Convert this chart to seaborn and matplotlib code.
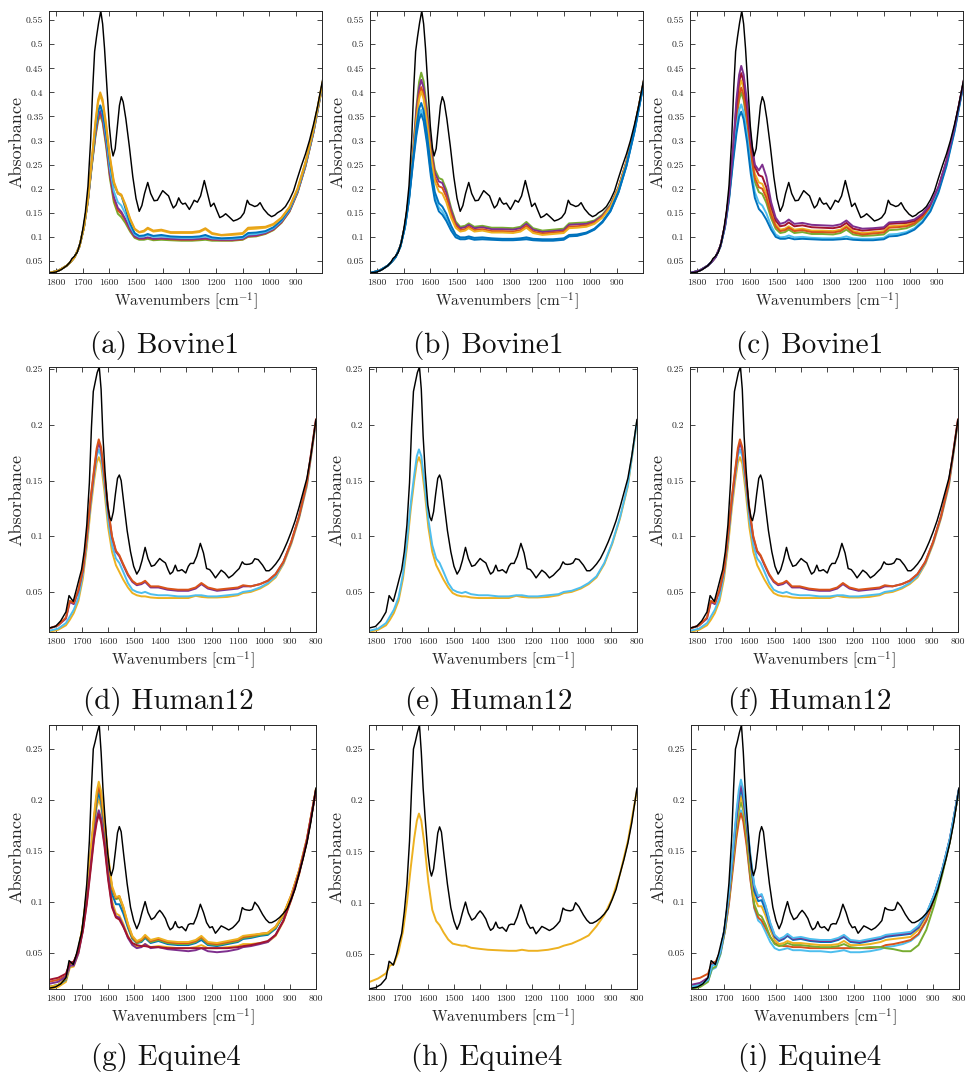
import numpy as np
import pandas as pd
import seaborn as sns
import matplotlib.pyplot as plt

# ---------------------------------------------------------------- wavenumber grids
WN_REF = [1826, 1800, 1780, 1760, 1748, 1740, 1732, 1720, 1708, 1700,
          1690, 1680, 1670, 1662, 1655, 1648, 1640, 1632, 1625, 1618,
          1610, 1600, 1592, 1586, 1578, 1570, 1562, 1555, 1548, 1538,
          1525, 1512, 1500, 1488, 1478, 1468, 1456, 1445, 1432, 1420,
          1410, 1400, 1390, 1378, 1368, 1360, 1350, 1340, 1332, 1325,
          1315, 1300, 1290, 1282, 1270, 1258, 1244, 1232, 1220, 1208,
          1198, 1186, 1175, 1164, 1150, 1135, 1120, 1108, 1095, 1083,
          1075, 1066, 1055, 1045, 1035, 1022, 1005, 992, 980, 970,
          955, 940, 925, 910, 895, 880, 865, 850, 835, 820,
          800]

WN_SMP = [1826, 1790, 1760, 1745, 1730, 1712, 1695, 1680, 1665, 1652,
          1642, 1634, 1625, 1612, 1598, 1583, 1568, 1555, 1540, 1522,
          1505, 1488, 1470, 1456, 1435, 1405, 1370, 1330, 1290, 1262,
          1240, 1215, 1180, 1140, 1100, 1080, 1050, 1015, 985, 955,
          925, 895, 865, 835, 800]

# ---------------------------------------------------------------- reference spectra
REF_BOVINE = [.025, .027, .032, .040, .047, .055, .059, .068, .090, .114,
              .150, .205, .300, .410, .485, .515, .545, .569, .542, .492,
              .420, .330, .285, .268, .283, .328, .373, .391, .380, .345,
              .288, .225, .180, .153, .165, .190, .213, .190, .175, .176,
              .186, .196, .191, .185, .170, .160, .166, .181, .172, .168,
              .170, .157, .167, .176, .172, .185, .217, .190, .163, .170,
              .156, .140, .143, .148, .141, .133, .136, .140, .150, .176,
              .168, .166, .163, .165, .171, .158, .147, .142, .145, .150,
              .155, .163, .177, .195, .222, .248, .272, .300, .333, .370,
              .428]

REF_HUMAN = [.0175, .019, .024, .032, .0467, .044, .0415, .052, .063, .070,
             .086, .110, .148, .198, .230, .238, .247, .252, .232, .190,
             .158, .128, .117, .114, .122, .138, .152, .155, .150, .130,
             .105, .086, .073, .066, .070, .078, .090, .080, .073, .074,
             .077, .080, .078, .076, .070, .066, .068, .074, .069, .069,
             .070, .067, .073, .0756, .0756, .082, .0936, .085, .071, .070,
             .067, .0626, .066, .0695, .067, .0626, .065, .068, .071, .077,
             .075, .0747, .075, .076, .0798, .079, .074, .069, .069, .071,
             .075, .080, .087, .095, .104, .114, .126, .139, .152, .172,
             .205]

REF_EQUINE = [.0157, .017, .020, .026, .0428, .041, .039, .049, .062, .070,
              .091, .118, .160, .212, .250, .257, .266, .2735, .247, .212,
              .182, .149, .132, .126, .133, .150, .168, .174, .169, .146,
              .118, .095, .082, .074, .080, .090, .1006, .090, .083, .085,
              .089, .092, .089, .084, .077, .073, .075, .081, .076, .075,
              .076, .072, .078, .079, .0787, .086, .098, .090, .080, .075,
              .076, .0696, .073, .0768, .075, .0728, .075, .078, .082, .0947,
              .093, .0924, .092, .093, .100, .096, .088, .083, .080, .080,
              .082, .085, .089, .094, .103, .113, .128, .142, .158, .178,
              .212]

# ---------------------------------------------------------------- sample spectra, Bovine1
A_GREEN = [.025, .030, .040, .048, .058, .080, .119, .175, .250, .308, .341, .352, .337, .288, .222,
           .172, .148, .141, .129, .111, .098, .094, .094, .096, .093, .094, .093, .092, .092, .093,
           .094, .092, .092, .092, .094, .100, .101, .106, .114, .129, .152, .191, .246, .316, .418]
A_RED = [.025, .030, .040, .048, .058, .080, .120, .176, .252, .312, .346, .357, .342, .294, .228,
         .178, .155, .148, .134, .114, .100, .096, .096, .098, .095, .096, .095, .094, .094, .095,
         .096, .094, .093, .093, .095, .101, .102, .107, .115, .130, .153, .192, .247, .317, .419]
A_PURPLE = [.025, .030, .040, .048, .058, .080, .120, .176, .254, .316, .351, .362, .346, .298, .232,
            .183, .160, .152, .137, .116, .101, .097, .097, .099, .096, .097, .096, .095, .095, .096,
            .097, .095, .094, .094, .096, .102, .103, .108, .116, .131, .154, .193, .248, .318, .420]
A_LIGHTBLUE = [.025, .030, .040, .048, .058, .080, .121, .178, .258, .323, .360, .372, .356, .308, .243,
               .195, .172, .165, .148, .122, .105, .100, .101, .104, .100, .101, .099, .098, .098, .099,
               .101, .097, .096, .096, .098, .105, .106, .110, .118, .133, .156, .195, .250, .320, .421]
A_BLUE = [.025, .030, .040, .048, .058, .080, .121, .178, .258, .325, .362, .373, .358, .315, .255,
          .210, .190, .186, .160, .128, .108, .102, .103, .106, .102, .104, .101, .100, .100, .101,
          .104, .099, .097, .098, .100, .108, .109, .112, .120, .135, .158, .197, .252, .322, .422]
A_YELLOW = [.025, .030, .040, .048, .058, .080, .121, .179, .262, .335, .379, .394, .379, .330, .264,
            .212, .190, .186, .166, .136, .116, .109, .111, .117, .111, .113, .108, .108, .108, .110,
            .116, .106, .103, .104, .106, .116, .117, .119, .125, .139, .161, .199, .254, .324, .423]
A_ORANGE = [.025, .030, .040, .048, .058, .080, .122, .180, .265, .340, .385, .400, .385, .335, .268,
            .215, .192, .188, .168, .138, .117, .110, .113, .119, .113, .115, .110, .110, .110, .112,
            .118, .108, .104, .106, .108, .119, .120, .121, .127, .140, .162, .200, .255, .325, .424]

B_GREEN = [.025, .030, .040, .048, .058, .081, .124, .184, .275, .370, .422, .441, .423, .365, .292,
           .240, .222, .219, .198, .160, .132, .121, .123, .128, .121, .123, .119, .119, .118, .121,
           .131, .118, .113, .115, .117, .128, .129, .130, .134, .146, .167, .203, .257, .326, .424]
B_PURPLE = [.025, .030, .040, .048, .058, .081, .123, .183, .272, .362, .409, .426, .409, .354, .284,
            .233, .215, .212, .192, .155, .128, .118, .120, .125, .118, .120, .116, .116, .115, .118,
            .127, .115, .110, .112, .114, .125, .126, .127, .132, .144, .165, .202, .256, .325, .424]
B_RED = [.025, .030, .040, .048, .058, .081, .123, .182, .270, .350, .395, .411, .395, .343, .275,
         .224, .205, .202, .183, .148, .124, .114, .116, .121, .114, .116, .112, .112, .111, .114,
         .123, .111, .107, .109, .111, .121, .122, .124, .129, .142, .163, .201, .255, .325, .423]
B_ORANGE = [.025, .030, .040, .048, .058, .080, .122, .181, .267, .342, .386, .402, .386, .336, .268,
            .215, .194, .190, .172, .140, .119, .111, .113, .118, .111, .113, .109, .109, .108, .111,
            .119, .108, .104, .106, .108, .118, .119, .121, .127, .140, .162, .200, .254, .324, .423]
B_LIGHTBLUE = [.025, .030, .040, .048, .058, .080, .120, .177, .256, .318, .353, .364, .348, .300, .234,
               .184, .161, .153, .139, .117, .102, .097, .097, .099, .096, .097, .096, .095, .095, .096,
               .097, .095, .094, .094, .096, .102, .103, .108, .116, .131, .154, .193, .248, .319, .420]
B_BLUE1 = [.025, .030, .040, .048, .058, .080, .121, .178, .260, .328, .366, .378, .362, .312, .245,
           .193, .170, .163, .148, .123, .105, .099, .099, .101, .098, .099, .097, .096, .096, .097,
           .099, .096, .095, .095, .097, .104, .105, .109, .117, .132, .155, .194, .249, .320, .421]
B_BLUE2 = [.025, .030, .040, .048, .058, .080, .120, .176, .252, .311, .344, .355, .340, .292, .226,
           .176, .153, .146, .133, .113, .099, .095, .095, .097, .094, .095, .094, .093, .093, .094,
           .095, .093, .092, .092, .094, .101, .102, .107, .115, .130, .153, .192, .247, .318, .420]

C_PURPLE = [.025, .030, .040, .048, .058, .081, .124, .185, .280, .385, .436, .455, .437, .378, .305,
            .250, .238, .250, .225, .172, .140, .127, .130, .136, .127, .129, .125, .124, .123, .126,
            .134, .122, .117, .118, .120, .130, .131, .132, .136, .148, .168, .204, .258, .327, .425]
C_RED = [.025, .030, .040, .048, .058, .081, .124, .184, .276, .372, .422, .440, .422, .366, .295,
         .245, .228, .225, .203, .163, .134, .122, .124, .130, .122, .124, .120, .119, .118, .121,
         .129, .117, .113, .115, .117, .127, .128, .129, .133, .146, .166, .203, .257, .326, .424]
C_YELLOW = [.025, .030, .040, .048, .058, .081, .123, .183, .272, .361, .408, .425, .408, .353, .283,
            .231, .213, .210, .190, .152, .126, .115, .117, .122, .115, .117, .113, .113, .112, .115,
            .123, .112, .108, .110, .112, .122, .123, .125, .130, .143, .164, .201, .255, .325, .423]
C_ORANGE = [.025, .030, .040, .048, .058, .081, .122, .182, .269, .349, .394, .410, .394, .342, .273,
            .222, .203, .200, .181, .146, .122, .112, .114, .119, .112, .114, .110, .110, .109, .112,
            .120, .109, .105, .107, .109, .119, .120, .122, .128, .141, .163, .200, .254, .324, .423]
C_GREEN = [.025, .030, .040, .048, .058, .080, .122, .181, .266, .340, .384, .400, .384, .334, .266,
           .214, .193, .189, .171, .139, .117, .108, .110, .115, .108, .110, .106, .106, .105, .108,
           .115, .105, .102, .103, .105, .114, .115, .118, .125, .139, .161, .199, .253, .323, .422]
C_LIGHTBLUE = [.025, .030, .040, .048, .058, .080, .121, .178, .259, .325, .363, .375, .359, .310, .244,
               .193, .171, .165, .149, .123, .105, .099, .100, .103, .099, .100, .098, .097, .097, .098,
               .101, .097, .096, .096, .098, .105, .106, .110, .118, .133, .156, .195, .250, .320, .421]
C_BLUE = [.025, .030, .040, .048, .058, .080, .120, .176, .254, .314, .349, .360, .344, .296, .230,
          .181, .158, .150, .136, .115, .100, .096, .096, .098, .095, .096, .095, .094, .094, .095,
          .096, .094, .093, .093, .095, .101, .102, .107, .115, .130, .153, .192, .247, .318, .420]

# ---------------------------------------------------------------- sample spectra, Human12
D_YELLOW = [.014, .016, .020, .025, .031, .042, .062, .090, .125, .150, .166, .171, .165, .140, .108,
            .086, .074, .068, .061, .054, .049, .047, .046, .046, .045, .0445, .0445, .0445, .0445, .0465,
            .0455, .045, .045, .0455, .047, .049, .050, .053, .057, .063, .075, .093, .116, .145, .203]
D_LIGHTBLUE = [.015, .017, .022, .028, .034, .045, .066, .095, .130, .155, .172, .178, .172, .147, .115,
               .092, .080, .076, .068, .058, .052, .050, .049, .050, .048, .047, .047, .046, .046, .047,
               .047, .046, .046, .047, .048, .050, .051, .054, .058, .064, .076, .094, .117, .146, .203]
D_PURPLE = [.017, .020, .026, .041, .039, .051, .069, .099, .133, .158, .176, .184, .177, .153, .123,
            .099, .086, .082, .074, .065, .059, .056, .057, .059, .054, .054, .052, .051, .051, .053,
            .057, .053, .051, .052, .053, .055, .055, .057, .060, .066, .077, .095, .118, .148, .205]
D_RED = [.017, .020, .027, .042, .040, .052, .070, .100, .135, .160, .179, .187, .180, .155, .125,
         .100, .087, .083, .075, .066, .060, .057, .058, .060, .055, .055, .053, .052, .052, .054,
         .058, .054, .052, .053, .054, .056, .055, .057, .060, .066, .077, .095, .118, .148, .205]

# ---------------------------------------------------------------- sample spectra, Equine4
G_YELLOW = [.017, .019, .025, .040, .040, .053, .078, .110, .150, .186, .208, .218, .209, .182, .146,
            .116, .105, .106, .096, .079, .067, .062, .064, .068, .063, .065, .062, .061, .061, .063,
            .067, .061, .060, .062, .064, .067, .068, .069, .070, .076, .088, .107, .131, .162, .211]
G_ORANGE = [.022, .024, .028, .041, .041, .053, .077, .108, .147, .182, .204, .213, .204, .178, .143,
            .114, .104, .106, .095, .078, .066, .061, .063, .067, .062, .064, .061, .060, .060, .062,
            .066, .060, .059, .061, .063, .066, .067, .069, .070, .076, .088, .107, .131, .162, .211]
G_GREEN = [.017, .019, .025, .039, .040, .053, .077, .108, .147, .181, .203, .212, .203, .177, .142,
           .113, .103, .104, .094, .077, .065, .060, .062, .066, .061, .063, .060, .059, .059, .061,
           .065, .059, .058, .060, .062, .065, .066, .068, .069, .075, .087, .106, .130, .161, .210]
G_BLUE = [.017, .019, .024, .038, .039, .052, .076, .106, .144, .177, .198, .207, .198, .172, .138,
          .108, .098, .098, .089, .075, .064, .060, .061, .065, .060, .062, .059, .058, .058, .060,
          .063, .058, .057, .059, .061, .064, .065, .067, .068, .074, .087, .106, .130, .161, .210]
G_PURPLE = [.020, .022, .027, .038, .038, .050, .072, .100, .135, .165, .182, .190, .182, .158, .125,
            .097, .086, .085, .077, .065, .058, .055, .056, .059, .055, .056, .054, .053, .052, .053,
            .055, .052, .051, .052, .054, .056, .057, .059, .061, .068, .082, .103, .128, .160, .210]
G_DARKRED = [.024, .026, .030, .040, .042, .052, .072, .098, .132, .162, .178, .186, .178, .155, .122,
             .095, .085, .083, .076, .066, .060, .058, .057, .057, .056, .056, .055, .055, .055, .055,
             .055, .055, .055, .055, .056, .057, .058, .060, .062, .068, .082, .103, .128, .160, .210]
G_YELLOW_LOW = [.015, .017, .022, .036, .037, .050, .074, .104, .142, .173, .193, .201, .193, .167, .132,
                .101, .089, .087, .079, .067, .059, .056, .057, .059, .056, .057, .056, .055, .055, .056,
                .058, .055, .055, .056, .057, .059, .059, .060, .061, .067, .081, .102, .127, .159, .209]

H_YELLOW = [.0223, .026, .031, .0386, .040, .052, .072, .100, .135, .163, .180, .187, .180, .155, .120,
            .093, .082, .078, .071, .064, .060, .059, .058, .058, .056, .055, .054, .0535, .053, .053,
            .054, .053, .053, .054, .056, .058, .060, .064, .068, .077, .088, .104, .128, .160, .210]

I_LIGHTBLUE = [.017, .019, .024, .038, .039, .052, .077, .109, .150, .187, .210, .220, .210, .183, .147,
               .117, .106, .108, .097, .080, .068, .064, .066, .069, .065, .066, .064, .063, .063, .065,
               .068, .063, .062, .064, .066, .068, .069, .070, .071, .077, .089, .107, .131, .162, .211]
I_PURPLE = [.019, .021, .026, .039, .040, .052, .077, .108, .147, .183, .205, .214, .205, .179, .144,
            .115, .105, .107, .096, .079, .067, .063, .065, .068, .064, .065, .063, .062, .062, .064,
            .067, .062, .061, .063, .065, .067, .068, .069, .070, .076, .088, .107, .131, .162, .211]
I_BLUE = [.017, .019, .024, .038, .039, .052, .076, .107, .146, .180, .201, .210, .201, .175, .140,
          .111, .101, .102, .092, .077, .066, .062, .064, .067, .063, .064, .062, .061, .061, .063,
          .066, .061, .060, .062, .064, .066, .067, .068, .069, .075, .088, .107, .131, .162, .211]
I_YELLOW = [.018, .020, .025, .039, .040, .052, .075, .105, .143, .175, .195, .204, .195, .170, .135,
            .105, .096, .096, .087, .073, .063, .059, .060, .062, .060, .060, .059, .058, .058, .059,
            .062, .058, .058, .059, .061, .063, .064, .065, .066, .073, .086, .106, .130, .161, .210]
I_GREEN = [.015, .017, .022, .035, .037, .050, .073, .103, .140, .171, .190, .198, .190, .164, .128,
           .098, .088, .086, .078, .066, .059, .057, .058, .060, .058, .058, .057, .056, .056, .057,
           .059, .056, .055, .056, .056, .055, .054, .052, .052, .058, .073, .097, .126, .159, .210]
I_RED = [.024, .026, .030, .040, .042, .052, .072, .098, .132, .162, .179, .187, .179, .155, .122,
         .095, .085, .082, .075, .066, .060, .058, .057, .057, .056, .056, .055, .055, .055, .055,
         .055, .055, .055, .055, .056, .058, .059, .061, .063, .069, .082, .103, .128, .160, .210]
I_LIGHTBLUE_LOW = [.016, .018, .023, .034, .036, .049, .072, .100, .136, .166, .183, .190, .183, .158, .124,
                   .094, .082, .079, .071, .061, .055, .053, .054, .055, .053, .053, .052, .052, .051, .052,
                   .053, .051, .051, .052, .054, .056, .057, .059, .062, .068, .082, .103, .128, .160, .210]

# ---------------------------------------------------------------- axis annotations
X_TICKS_BOVINE = [1800, 1700, 1600, 1500, 1400, 1300, 1200, 1100, 1000, 900]
X_TICKS_OTHER = [1800, 1700, 1600, 1500, 1400, 1300, 1200, 1100, 1000, 900, 800]
Y_TICKS_BOVINE = [0.05, 0.1, 0.15, 0.2, 0.25, 0.3, 0.35, 0.4, 0.45, 0.5, 0.55]
Y_TICKS_OTHER = [0.05, 0.1, 0.15, 0.2, 0.25]
CAPTIONS = ["(a) Bovine1", "(b) Bovine1", "(c) Bovine1",
            "(d) Human12", "(e) Human12", "(f) Human12",
            "(g) Equine4", "(h) Equine4", "(i) Equine4"]

# MATLAB-like line colours
BLUE, ORANGE, YELLOW = "#0072BD", "#D95319", "#EDB120"
PURPLE, GREEN, LIGHTBLUE, DARKRED = "#7E2F8E", "#77AC30", "#4DBEEE", "#A2142F"

PANELS = [
    dict(ref=REF_BOVINE, xlim=(1826, 803), xt=X_TICKS_BOVINE, yt=Y_TICKS_BOVINE,
         samples=[(A_GREEN, GREEN), (A_RED, ORANGE), (A_PURPLE, PURPLE), (A_LIGHTBLUE, LIGHTBLUE),
                  (A_BLUE, BLUE), (A_YELLOW, YELLOW), (A_ORANGE, "#E8A317")]),
    dict(ref=REF_BOVINE, xlim=(1826, 803), xt=X_TICKS_BOVINE, yt=Y_TICKS_BOVINE,
         samples=[(B_GREEN, GREEN), (B_PURPLE, PURPLE), (B_RED, ORANGE), (B_ORANGE, YELLOW),
                  (B_LIGHTBLUE, LIGHTBLUE), (B_BLUE2, BLUE), (B_BLUE1, BLUE)]),
    dict(ref=REF_BOVINE, xlim=(1826, 803), xt=X_TICKS_BOVINE, yt=Y_TICKS_BOVINE,
         samples=[(C_GREEN, GREEN), (C_YELLOW, YELLOW), (C_ORANGE, ORANGE), (C_RED, DARKRED),
                  (C_LIGHTBLUE, LIGHTBLUE), (C_BLUE, BLUE), (C_PURPLE, PURPLE)]),
    dict(ref=REF_HUMAN, xlim=(1825, 800), xt=X_TICKS_OTHER, yt=Y_TICKS_OTHER,
         samples=[(D_YELLOW, YELLOW), (D_LIGHTBLUE, LIGHTBLUE), (D_PURPLE, PURPLE), (D_RED, ORANGE)]),
    dict(ref=REF_HUMAN, xlim=(1825, 800), xt=X_TICKS_OTHER, yt=Y_TICKS_OTHER,
         samples=[(D_YELLOW, YELLOW), (D_LIGHTBLUE, LIGHTBLUE)]),
    dict(ref=REF_HUMAN, xlim=(1825, 800), xt=X_TICKS_OTHER, yt=Y_TICKS_OTHER,
         samples=[(D_YELLOW, YELLOW), (D_LIGHTBLUE, LIGHTBLUE), (D_PURPLE, PURPLE), (D_RED, ORANGE)]),
    dict(ref=REF_EQUINE, xlim=(1825, 800), xt=X_TICKS_OTHER, yt=Y_TICKS_OTHER,
         samples=[(G_YELLOW_LOW, YELLOW), (G_BLUE, BLUE), (G_GREEN, GREEN), (G_ORANGE, ORANGE),
                  (G_YELLOW, YELLOW), (G_PURPLE, PURPLE), (G_DARKRED, DARKRED)]),
    dict(ref=REF_EQUINE, xlim=(1825, 800), xt=X_TICKS_OTHER, yt=Y_TICKS_OTHER,
         samples=[(H_YELLOW, YELLOW)]),
    dict(ref=REF_EQUINE, xlim=(1825, 800), xt=X_TICKS_OTHER, yt=Y_TICKS_OTHER,
         samples=[(I_LIGHTBLUE_LOW, LIGHTBLUE), (I_RED, ORANGE), (I_GREEN, GREEN), (I_YELLOW, YELLOW),
                  (I_BLUE, BLUE), (I_PURPLE, PURPLE), (I_LIGHTBLUE, LIGHTBLUE)]),
]

# axes boxes in figure pixels: (left, top, right, bottom)
W, H = 965, 1076
BOXES = [(49, 11, 322, 273), (370, 11, 643, 273), (690, 11, 963, 273),
         (49, 367, 316, 632), (369, 367, 637, 632), (690, 367, 958, 632),
         (49, 725, 316, 989), (369, 725, 637, 989), (691, 725, 959, 989)]
CAPTION_POS = [(165, 345), (488, 345), (810, 345),
               (168, 702), (489, 702), (810, 702),
               (166, 1058), (487, 1058), (810, 1058)]

sns.set_theme(style="ticks")
plt.rcParams.update({
    "font.family": ["cmr10", "DejaVu Serif"],
    "mathtext.fontset": "cm",
    "axes.formatter.use_mathtext": True,
    "axes.edgecolor": "#262626",
    "axes.linewidth": 0.7,
    "xtick.color": "#262626",
    "ytick.color": "#262626",
    "text.color": "#111111",
})

fig = plt.figure(figsize=(W / 100, H / 100), dpi=100)

for k, (panel, box) in enumerate(zip(PANELS, BOXES)):
    l, t, r, b = box
    ax = fig.add_axes([l / W, 1 - b / H, (r - l) / W, (b - t) / H])

    frames = []
    palette = {}
    order = []
    for j, (vals, col) in enumerate(panel["samples"]):
        name = f"s{j}"
        frames.append(pd.DataFrame({"wn": WN_SMP, "absorbance": vals, "curve": name}))
        palette[name] = col
        order.append(name)
    df = pd.concat(frames, ignore_index=True)
    sns.lineplot(data=df, x="wn", y="absorbance", hue="curve", hue_order=order,
                 palette=palette, estimator=None, sort=False, legend=False,
                 linewidth=1.4, ax=ax)

    ref = pd.DataFrame({"wn": WN_REF, "absorbance": panel["ref"]})
    sns.lineplot(data=ref, x="wn", y="absorbance", color="black", estimator=None,
                 sort=False, linewidth=1.05, ax=ax)

    all_vals = np.concatenate([df["absorbance"].to_numpy(), ref["absorbance"].to_numpy()])
    ax.set_xlim(*panel["xlim"])
    ax.set_ylim(all_vals.min(), all_vals.max())
    ax.set_xticks(panel["xt"])
    ax.set_yticks(panel["yt"])
    ax.set_xticklabels([f"{v:g}" for v in panel["xt"]])
    ax.set_yticklabels([f"{v:g}" for v in panel["yt"]])
    ax.tick_params(direction="in", top=True, right=True, length=3.5, width=0.6,
                   labelsize=7, pad=4)
    ax.set_xlabel(r"Wavenumbers [cm$^{-1}$]", fontsize=11, labelpad=2)
    ax.set_ylabel("Absorbance", fontsize=13, labelpad=1)
    for s in ax.spines.values():
        s.set_visible(True)

    cx, cy = CAPTION_POS[k]
    fig.text(cx / W, 1 - cy / H, CAPTIONS[k], ha="center", va="center", fontsize=21)

fig.savefig("out.png", dpi=100)
